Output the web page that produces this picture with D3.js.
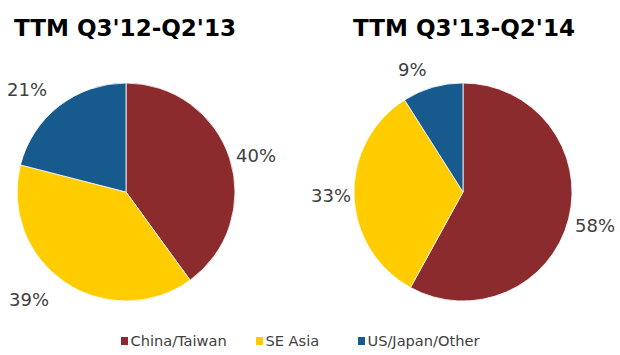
<!DOCTYPE html>
<html><head><meta charset="utf-8">
<script src="https://cdn.jsdelivr.net/npm/d3@7"></script>
<style>body{margin:0;background:#fff}svg{display:block}</style>
</head><body>
<svg id="c" width="620" height="355"></svg>
<script>
const categories = ["China/Taiwan", "SE Asia", "US/Japan/Other"];
const colors = ["#8B2B2E", "#FFCC00", "#165A8E"];
const titles = ["TTM Q3'12-Q2'13", "TTM Q3'13-Q2'14"];
const valuesLeft = [40, 39, 21];
const valuesRight = [58, 33, 9];
const labelsLeft = ["40%", "39%", "21%"];
const labelsRight = ["58%", "33%", "9%"];

const svg = d3.select("#c");
const color = d3.scaleOrdinal().domain(categories).range(colors);
const pie = d3.pie().sort(null).value(d => d.v);
const R = 109;
const arc = d3.arc().innerRadius(0).outerRadius(R);

const charts = [
  {cx: 126, cy: 192, values: valuesLeft, labels: labelsLeft, title: titles[0], tx: 14,
   lab: [[236,162],[9,306],[7,96]]},
  {cx: 463, cy: 192, values: valuesRight, labels: labelsRight, title: titles[1], tx: 353,
   lab: [[575,232],[311,202],[398,76]]}
];

charts.forEach(c => {
  svg.append("text").attr("x", c.tx).attr("y", 36)
    .attr("font-family", "Verdana, 'DejaVu Sans', sans-serif")
    .attr("font-weight", "bold").attr("font-size", 22.5).attr("fill", "#000")
    .attr("textLength", 222).attr("lengthAdjust", "spacingAndGlyphs")
    .text(c.title);
  const g = svg.append("g").attr("transform", `translate(${c.cx},${c.cy})`);
  const data = pie(categories.map((k, i) => ({k, v: c.values[i]})));
  g.selectAll("path").data(data).join("path")
    .attr("d", arc).attr("fill", d => color(d.data.k))
    .attr("stroke", "#fff").attr("stroke-width", 0.8);
  data.forEach((d, i) => {
    svg.append("text").attr("x", c.lab[i][0]).attr("y", c.lab[i][1])
      .attr("font-family", "Verdana, 'DejaVu Sans', sans-serif")
      .attr("font-size", 18).attr("fill", "#404040")
      .text(c.labels[i]);
  });
});

const legX = [121, 256, 358];
const leg = svg.append("g");
categories.forEach((k, i) => {
  leg.append("rect").attr("x", legX[i]).attr("y", 337).attr("width", 7).attr("height", 8)
    .attr("fill", color(k));
  leg.append("text").attr("x", legX[i] + 9.5).attr("y", 346)
    .attr("font-family", "Verdana, 'DejaVu Sans', sans-serif")
    .attr("font-size", 14.6).attr("fill", "#404040").text(k);
});
</script>
</body></html>
